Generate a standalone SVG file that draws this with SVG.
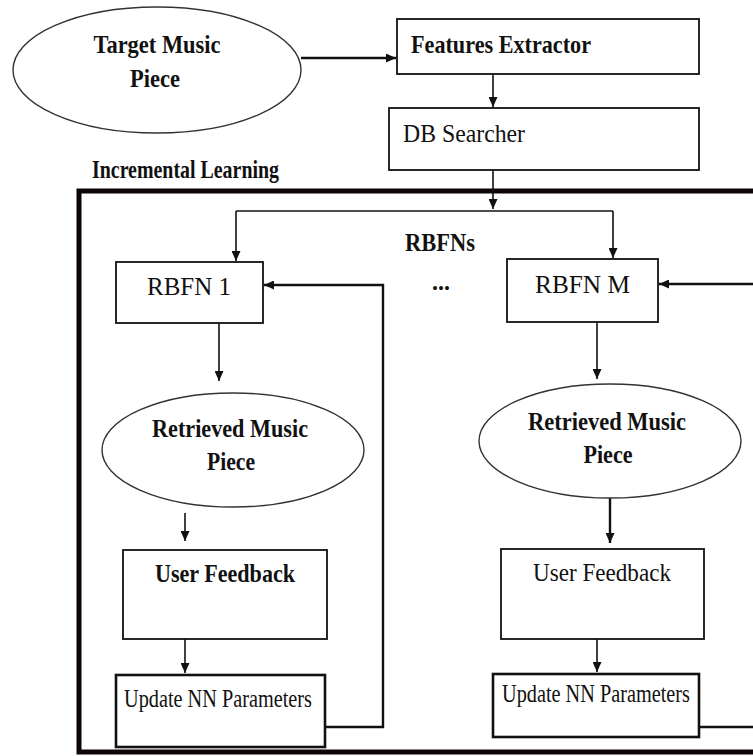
<svg xmlns="http://www.w3.org/2000/svg" width="753" height="756" viewBox="0 0 753 756">
<style>
.bg{fill:#ffffff}
.box{fill:#ffffff;stroke:#111;stroke-width:1.8}
.boxb{fill:#ffffff;stroke:#111;stroke-width:2.6}
.ell{fill:#ffffff;stroke:#333;stroke-width:1.4}
.t{font-family:"Liberation Serif","Times New Roman",serif;fill:#111;font-size:25px}
.b{font-weight:bold}
.c{text-anchor:middle}
.ln{fill:none;stroke:#111;stroke-width:1.6}
.lnb{fill:none;stroke:#111;stroke-width:2.4}
.frame{fill:none;stroke:#0d0505;stroke-width:5}
</style>
<defs>
<marker id="ah" markerUnits="userSpaceOnUse" markerWidth="11" markerHeight="9" refX="10" refY="4.5" orient="auto">
<path d="M0,0 L10,4.5 L0,9 z" fill="#111"/>
</marker>
</defs>
<rect class="bg" x="0" y="0" width="753" height="756"/>

<g id="frame">
<path class="frame" d="M756 191 H79 V752 H756"/>
<text class="t b" x="92" y="178" font-size="22" textLength="187" lengthAdjust="spacingAndGlyphs">Incremental Learning</text>
</g>

<g id="connectors">
<path class="lnb" d="M301 58 H396" marker-end="url(#ah)"/>
<path class="ln" d="M493 74 V107" marker-end="url(#ah)"/>
<path class="ln" d="M493 170 V209" marker-end="url(#ah)"/>
<path class="ln" d="M236 211 H613"/>
<path class="ln" d="M236 211 V261" marker-end="url(#ah)"/>
<path class="ln" d="M613 211 V258" marker-end="url(#ah)"/>
<path class="ln" d="M219 323 V381" marker-end="url(#ah)"/>
<path class="ln" d="M597 322 V379" marker-end="url(#ah)"/>
<path class="ln" d="M185 513 V541" marker-end="url(#ah)"/>
<path class="lnb" d="M610 498 V543" marker-end="url(#ah)"/>
<path class="ln" d="M185 639 V673" marker-end="url(#ah)"/>
<path class="ln" d="M597 639 V672" marker-end="url(#ah)"/>
<path class="lnb" d="M325 727 H383 V285 H264" marker-end="url(#ah)"/>
<path class="lnb" d="M753 284 H659" marker-end="url(#ah)"/>
<path class="lnb" d="M699 727 H753"/>
</g>

<g id="target">
<ellipse class="ell" cx="157" cy="70" rx="144" ry="63"/>
<text class="t b c" x="157" y="53" font-size="26" textLength="127" lengthAdjust="spacingAndGlyphs">Target Music</text>
<text class="t b c" x="155" y="87" font-size="26" textLength="50" lengthAdjust="spacingAndGlyphs">Piece</text>
</g>

<g id="features">
<rect class="box" x="397" y="19" width="302" height="55"/>
<text class="t b" x="411" y="53" font-size="26" textLength="180" lengthAdjust="spacingAndGlyphs">Features Extractor</text>
</g>

<g id="dbsearcher">
<rect class="box" x="389" y="108" width="310" height="62"/>
<text class="t" x="403" y="142" font-size="24" textLength="122" lengthAdjust="spacingAndGlyphs">DB Searcher</text>
</g>

<g id="rbfns-label">
<text class="t b" x="405" y="251" textLength="70" lengthAdjust="spacingAndGlyphs">RBFNs</text>
<text class="t b" x="432" y="290" font-size="20" textLength="18" lengthAdjust="spacingAndGlyphs">...</text>
</g>

<g id="rbfn1">
<rect class="box" x="116" y="262" width="147" height="61"/>
<text class="t" x="147" y="295" font-size="26" textLength="84" lengthAdjust="spacingAndGlyphs">RBFN 1</text>
</g>

<g id="rbfnM">
<rect class="box" x="507" y="259" width="151" height="63"/>
<text class="t" x="535" y="293" font-size="26" textLength="95" lengthAdjust="spacingAndGlyphs">RBFN  M</text>
</g>

<g id="retrieved1">
<ellipse class="ell" cx="233" cy="450" rx="131" ry="57"/>
<text class="t b c" x="230" y="437" textLength="156" lengthAdjust="spacingAndGlyphs">Retrieved Music</text>
<text class="t b c" x="231" y="470" textLength="48" lengthAdjust="spacingAndGlyphs">Piece</text>
</g>

<g id="retrievedM">
<ellipse class="ell" cx="610" cy="441" rx="131" ry="57"/>
<text class="t b c" x="607" y="430" textLength="158" lengthAdjust="spacingAndGlyphs">Retrieved Music</text>
<text class="t b c" x="608" y="463" textLength="49" lengthAdjust="spacingAndGlyphs">Piece</text>
</g>

<g id="feedback1">
<rect class="box" x="123" y="550" width="204" height="89"/>
<text class="t b" x="155" y="582" textLength="140" lengthAdjust="spacingAndGlyphs">User Feedback</text>
</g>

<g id="feedbackM">
<rect class="box" x="501" y="549" width="203" height="90"/>
<text class="t" x="533" y="581" textLength="138" lengthAdjust="spacingAndGlyphs">User Feedback</text>
</g>

<g id="update1">
<rect class="boxb" x="116" y="675" width="209" height="72"/>
<text class="t" x="124" y="707" font-size="22" textLength="188" lengthAdjust="spacingAndGlyphs">Update NN Parameters</text>
</g>

<g id="updateM">
<rect class="boxb" x="493" y="674" width="206" height="63"/>
<text class="t" x="502" y="702" font-size="22" textLength="188" lengthAdjust="spacingAndGlyphs">Update NN Parameters</text>
</g>
</svg>
